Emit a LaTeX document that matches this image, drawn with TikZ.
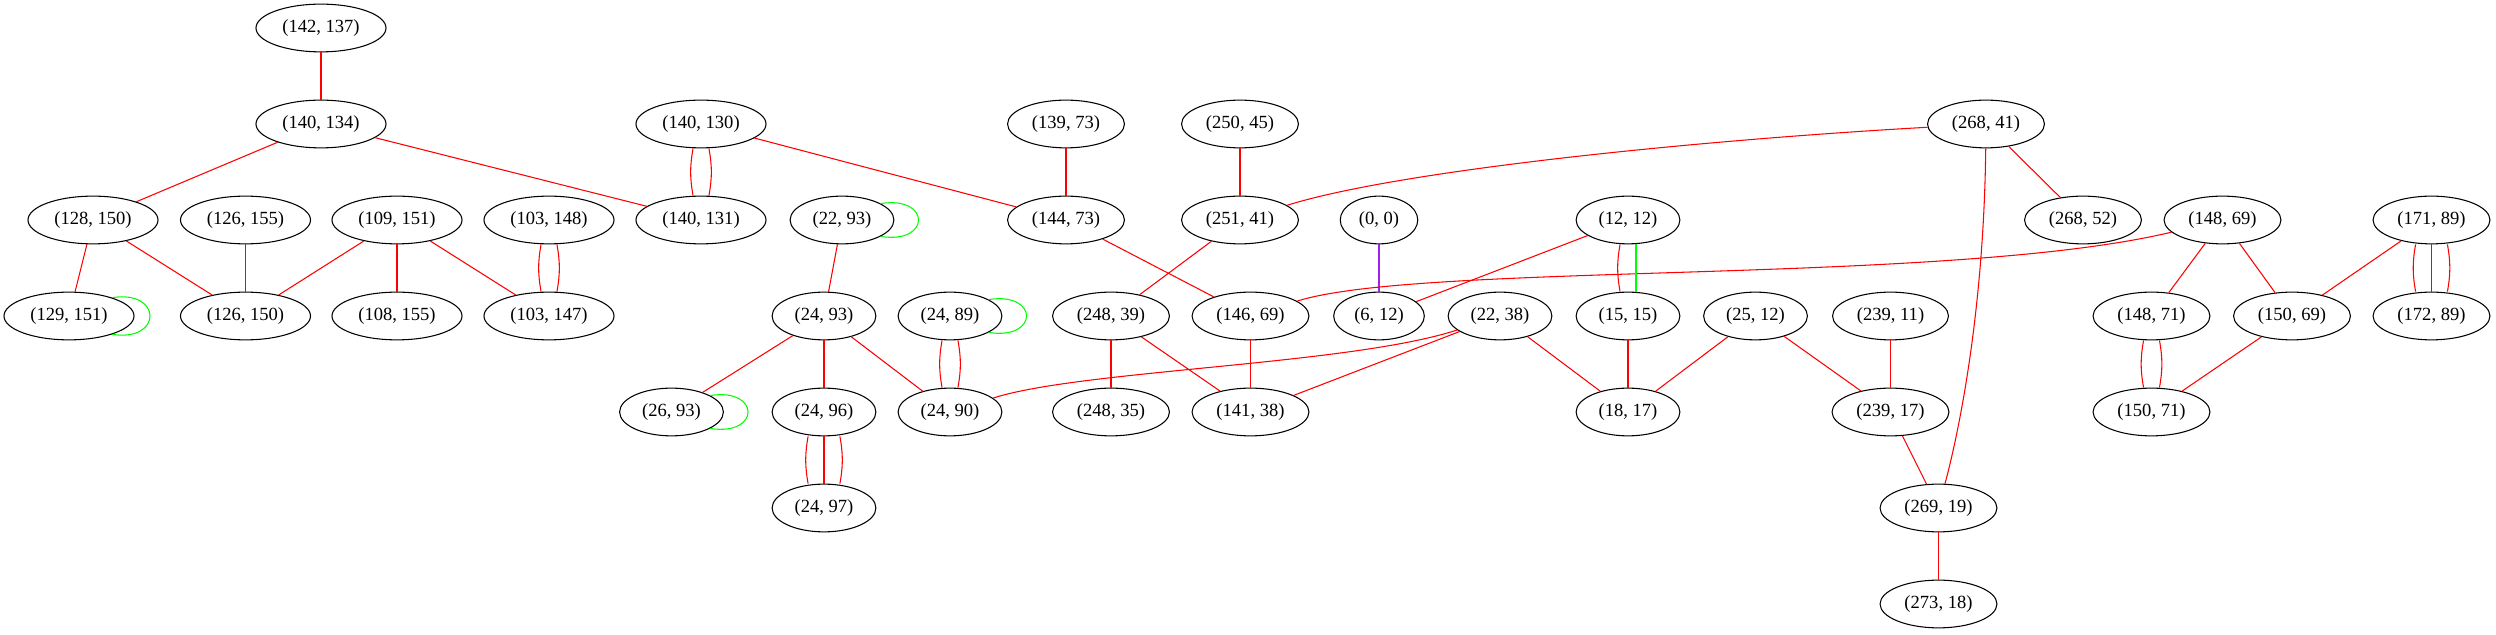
\documentclass[tikz,border=0pt]{standalone}
\usepackage{fontspec}
\setmainfont{Liberation Serif}
\usepackage{xcolor}
\usetikzlibrary{shapes,positioning}
\definecolor{gvgreen}{HTML}{00FF00}
\definecolor{gvpurple}{HTML}{A020F0}

\begin{document}
\begin{tikzpicture}[
	%	style def
    x=0.754pt, y=0.754pt,
    graph node/.style={draw, ellipse, line width=0.8pt, minimum height=36pt, inner xsep=5.5pt, inner ysep=2pt, font=\fontsize{14}{16}\selectfont},
    red line/.style={red, line width=0.8pt},
    loop line/.style={gvgreen, line width=0.8pt}
    ]
    \useasboundingbox (0,0) rectangle (2496,635);

	% nodes, row by row
    \node[graph node] (p142x137) at (321,607) {(142, 137)};

    \node[graph node] (p140x134) at (321,511) {(140, 134)};
    \node[graph node] (p140x130) at (701,511) {(140, 130)};
    \node[graph node] (p139x73) at (1066,511) {(139, 73)};
    \node[graph node] (p250x45) at (1240,511) {(250, 45)};
    \node[graph node] (p268x41) at (1986,511) {(268, 41)};

    \node[graph node] (p128x150) at (93,415) {(128, 150)};
    \node[graph node] (p126x155) at (245.5,415) {(126, 155)};
    \node[graph node] (p109x151) at (397,415) {(109, 151)};
    \node[graph node] (p103x148) at (549,415) {(103, 148)};
    \node[graph node] (p140x131) at (701,415) {(140, 131)};
    \node[graph node] (p22x93) at (842,415) {(22, 93)};
    \node[graph node] (p144x73) at (1066,415) {(144, 73)};
    \node[graph node] (p251x41) at (1240,415) {(251, 41)};
    \node[graph node] (p0x0) at (1379,415) {(0, 0)};
    \node[graph node] (p12x12) at (1628,415) {(12, 12)};
    \node[graph node] (p268x52) at (2083,415) {(268, 52)};
    \node[graph node] (p148x69) at (2222.5,415) {(148, 69)};
    \node[graph node] (p171x89) at (2431.5,415) {(171, 89)};

    \node[graph node] (p129x151) at (69,319) {(129, 151)};
    \node[graph node] (p126x150) at (245.5,319) {(126, 150)};
    \node[graph node] (p108x155) at (397,319) {(108, 155)};
    \node[graph node] (p103x147) at (549,319) {(103, 147)};
    \node[graph node] (p24x93) at (824,319) {(24, 93)};
    \node[graph node] (p24x89) at (950,319) {(24, 89)};
    \node[graph node] (p248x39) at (1111,319) {(248, 39)};
    \node[graph node] (p146x69) at (1250.5,319) {(146, 69)};
    \node[graph node] (p6x12) at (1379,319) {(6, 12)};
    \node[graph node] (p22x38) at (1500,319) {(22, 38)};
    \node[graph node] (p15x15) at (1628,319) {(15, 15)};
    \node[graph node] (p25x12) at (1755.5,319) {(25, 12)};
    \node[graph node] (p239x11) at (1890.5,319) {(239, 11)};
    \node[graph node] (p148x71) at (2151.5,319) {(148, 71)};
    \node[graph node] (p150x69) at (2292,319) {(150, 69)};
    \node[graph node] (p172x89) at (2431.5,319) {(172, 89)};

    \node[graph node] (p26x93) at (671.5,223) {(26, 93)};
    \node[graph node] (p24x96) at (824,223) {(24, 96)};
    \node[graph node] (p24x90) at (950,223) {(24, 90)};
    \node[graph node] (p248x35) at (1111,223) {(248, 35)};
    \node[graph node] (p141x38) at (1250.5,223) {(141, 38)};
    \node[graph node] (p18x17) at (1628,223) {(18, 17)};
    \node[graph node] (p239x17) at (1890.5,223) {(239, 17)};
    \node[graph node] (p150x71) at (2151.5,223) {(150, 71)};

    \node[graph node] (p24x97) at (824,127) {(24, 97)};
    \node[graph node] (p269x19) at (1938.5,127) {(269, 19)};

    \node[graph node] (p273x18) at (1938.5,31) {(273, 18)};

	% single edges
    \draw[red line] (p142x137) -- (p140x134);
    \draw[red line] (p140x134) -- (p128x150);
    \draw[red line] (p140x134) -- (p140x131);
    \draw[red line] (p140x130) -- (p144x73);
    \draw[red line] (p128x150) -- (p129x151);
    \draw[red line] (p128x150) -- (p126x150);
    \draw[red line] (p126x155) -- (p126x150);
    \draw[red line] (p109x151) -- (p126x150);
    \draw[red line] (p109x151) -- (p108x155);
    \draw[red line] (p109x151) -- (p103x147);
    \draw[red line] (p22x93) -- (p24x93);
    \draw[red line] (p24x93) -- (p26x93);
    \draw[red line] (p24x93) -- (p24x96);
    \draw[red line] (p24x93) -- (p24x90);
    \draw[red line] (p139x73) -- (p144x73);
    \draw[red line] (p144x73) -- (p146x69);
    \draw[red line] (p250x45) -- (p251x41);
    \draw[red line] (p251x41) -- (p248x39);
    \draw[red line] (p248x39) -- (p248x35);
    \draw[red line] (p248x39) -- (p141x38);
    \draw[red line] (p146x69) -- (p141x38);
    \draw[gvpurple, line width=0.8pt] (p0x0) -- (p6x12);
    \draw[red line] (p12x12) -- (p6x12);
    \draw[red line] (p22x38) -- (p141x38);
    \draw[red line] (p22x38) -- (p18x17);
    \draw[red line] (p15x15) -- (p18x17);
    \draw[red line] (p25x12) -- (p18x17);
    \draw[red line] (p25x12) -- (p239x17);
    \draw[red line] (p239x11) -- (p239x17);
    \draw[red line] (p239x17) -- (p269x19);
    \draw[red line] (p268x41) -- (p268x52);
    \draw[red line] (p269x19) -- (p273x18);
    \draw[red line] (p148x69) -- (p148x71);
    \draw[red line] (p148x69) -- (p150x69);
    \draw[red line] (p150x69) -- (p150x71);
    \draw[red line] (p171x89) -- (p150x69);

	% long curved edges
    \draw[red line] (p251x41) .. controls (1400,465) and (1700,495) .. (p268x41);
    \draw[red line] (p146x69) .. controls (1420,373) and (1950,350) .. (p148x69);
    \draw[red line] (p22x38) .. controls (1350,270) and (1080,265) .. (p24x90);
    \draw[red line] (p268x41) .. controls (1984,335) and (1962,215) .. (p269x19);

	% double and triple edges
    \draw[red line] ([xshift=-6pt]p140x130.south) to[bend right=10] ([xshift=-6pt]p140x131.north);
    \draw[red line] ([xshift=6pt]p140x130.south) to[bend left=10] ([xshift=6pt]p140x131.north);
    \draw[red line] ([xshift=-6pt]p103x148.south) to[bend right=10] ([xshift=-6pt]p103x147.north);
    \draw[red line] ([xshift=6pt]p103x148.south) to[bend left=10] ([xshift=6pt]p103x147.north);
    \draw[red line] ([xshift=-6pt]p24x89.south) to[bend right=10] ([xshift=-6pt]p24x90.north);
    \draw[red line] ([xshift=6pt]p24x89.south) to[bend left=10] ([xshift=6pt]p24x90.north);
    \draw[red line] ([xshift=-6pt]p148x71.south) to[bend right=10] ([xshift=-6pt]p150x71.north);
    \draw[red line] ([xshift=6pt]p148x71.south) to[bend left=10] ([xshift=6pt]p150x71.north);
    \draw[red line] ([xshift=-6pt]p12x12.south) to[bend right=10] ([xshift=-6pt]p15x15.north);
    \draw[loop line] ([xshift=6pt]p12x12.south) -- ([xshift=6pt]p15x15.north);
    \draw[red line] ([xshift=-12pt]p24x96.south) to[bend right=10] ([xshift=-12pt]p24x97.north);
    \draw[red line] (p24x96) -- (p24x97);
    \draw[red line] ([xshift=12pt]p24x96.south) to[bend left=10] ([xshift=12pt]p24x97.north);
    \draw[red line] ([xshift=-12pt]p171x89.south) to[bend right=10] ([xshift=-12pt]p172x89.north);
    \draw[red line] (p171x89) -- (p172x89);
    \draw[red line] ([xshift=12pt]p171x89.south) to[bend left=10] ([xshift=12pt]p172x89.north);

	% self loops
    \draw[loop line] (p129x151.23) .. controls +(38pt,6pt) and +(38pt,-6pt) .. (p129x151.-23);
    \draw[loop line] (p22x93.23) .. controls +(38pt,6pt) and +(38pt,-6pt) .. (p22x93.-23);
    \draw[loop line] (p26x93.23) .. controls +(38pt,6pt) and +(38pt,-6pt) .. (p26x93.-23);
    \draw[loop line] (p24x89.23) .. controls +(38pt,6pt) and +(38pt,-6pt) .. (p24x89.-23);

\end{tikzpicture}
\end{document}
